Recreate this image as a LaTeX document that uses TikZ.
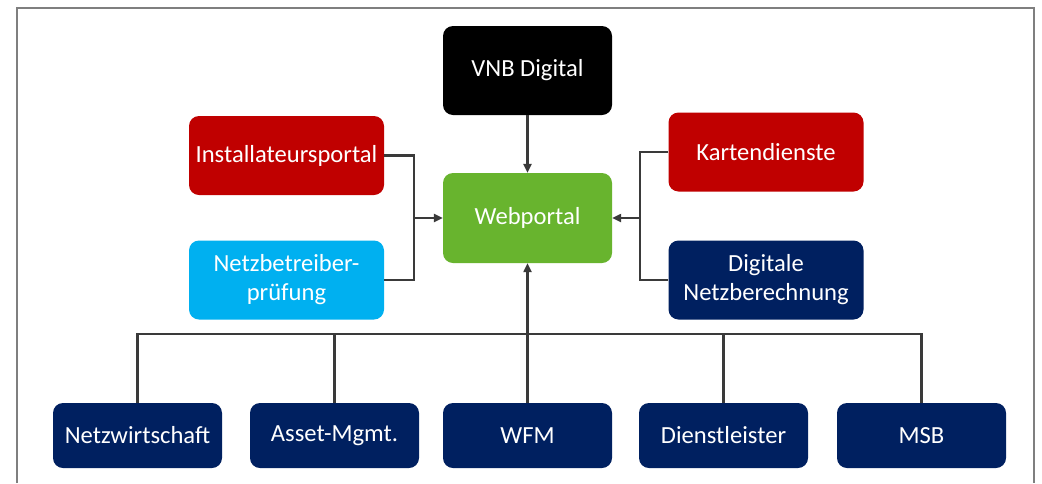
\documentclass[tikz,border=0pt]{standalone}
\usepackage{fontspec}
\setmainfont{Carlito}
\usetikzlibrary{arrows.meta}
\definecolor{boxred}{HTML}{C00000}
\definecolor{boxcyan}{HTML}{00B0F0}
\definecolor{boxnavy}{HTML}{002060}
\definecolor{boxgreen}{HTML}{68B42E}
\definecolor{linegray}{HTML}{3A3A3A}
\definecolor{framegray}{HTML}{7F7F7F}
\tikzset{
  box/.style={rounded corners=10pt, text=white, align=center,
    font=\fontsize{24.6}{29}\selectfont, inner sep=0pt},
  wide/.style={box, minimum width=195pt, minimum height=79pt},
  small/.style={box, minimum width=169pt, minimum height=65pt},
  link/.style={draw=linegray, line width=2.2pt},
  arr/.style={link, -{Triangle[length=9pt,width=8pt]}},
}
\begin{document}
\begin{tikzpicture}[x=1pt,y=-1pt]
  \useasboundingbox (0,0) rectangle (1042,483);
  \fill[white] (0,0) rectangle (1042,483);
  % outer frame, open at the bottom
  \draw[framegray, line width=2pt] (17,483) -- (17,8) -- (1034,8) -- (1034,483);

  % central column
  \node[box, fill=black, minimum width=169pt, minimum height=89pt] (vnb) at (527.5,70.5) {VNB Digital};
  \node[box, fill=boxgreen, minimum width=169pt, minimum height=90pt] (web) at (527.5,218) {Webportal};

  % side boxes
  \node[wide, fill=boxred] (inst) at (286.5,155.5) {Installateursportal};
  \node[wide, fill=boxcyan] (nbp) at (286.5,280) {Netzbetreiber-\\prüfung};
  \node[wide, fill=boxred] (karte) at (766,152) {Kartendienste};
  \node[wide, fill=boxnavy] (dnb) at (766,280) {Digitale\\Netzberechnung};

  % bottom row
  \node[small, fill=boxnavy] (nw) at (137.5,435.5) {Netzwirtschaft};
  \node[small, fill=boxnavy] (am) at (334.5,435.5) {Asset-Mgmt.};
  \node[small, fill=boxnavy] (wfm) at (527.5,435.5) {WFM};
  \node[small, fill=boxnavy] (dl) at (723.5,435.5) {Dienstleister};
  \node[small, fill=boxnavy] (msb) at (921.5,435.5) {MSB};

  % junction points
  \coordinate (lj) at (414,218);
  \coordinate (rj) at (640,218);
  \coordinate (bus) at (527.5,334);

  % VNB Digital feeds the web portal
  \draw[arr] (vnb) -- (web);

  % left bracket
  \draw[link] (inst.east) -| (lj) |- (nbp.east);
  \draw[arr] (lj) -- (web.west);

  % right bracket
  \draw[link] (karte.west) -| (rj) |- (dnb.west);
  \draw[arr] (rj) -- (web.east);

  % bottom bus
  \draw[link] (nw.north) |- (bus) -| (msb.north);
  \draw[link] (am.north) -- (am.north |- bus);
  \draw[link] (dl.north) -- (dl.north |- bus);
  \draw[arr] (wfm.north) -- (web.south);
\end{tikzpicture}
\end{document}
